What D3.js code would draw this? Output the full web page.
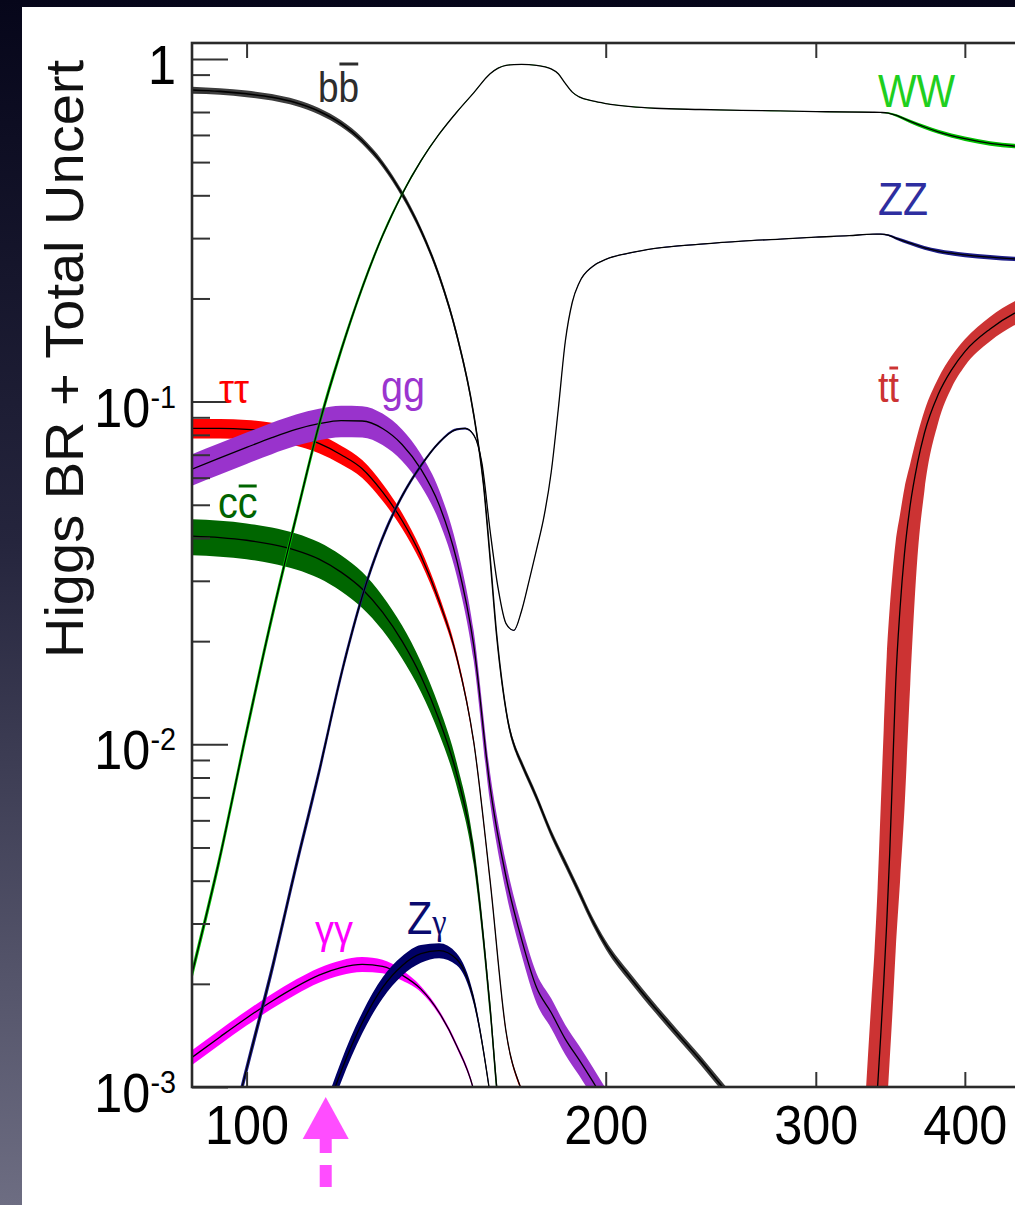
<!DOCTYPE html>
<html>
<head>
<meta charset="utf-8">
<script src="https://cdn.jsdelivr.net/npm/d3@7"></script>
<style>
  html, body { margin: 0; padding: 0; background: #000; overflow: hidden; }
  svg { display: block; }
  text { font-family: "Liberation Sans", Arial, Helvetica, sans-serif; }
</style>
</head>
<body>
<script>
// SM Higgs boson branching ratios versus Higgs mass (GeV),
// central value plus relative total uncertainty for each decay mode.

// H -> b bbar
const bbMass = [90,95,100,105,110,115,120,125,130,135,140,145,150,155,158,160,162,164,166,168,170,175,180,185,190,195,200,210,220,230,240,250,260,270];
const bbBR   = [0.812,0.804,0.791,0.773,0.745,0.704,0.648,0.577,0.494,0.404,0.316,0.233,0.157,0.092,0.057,0.035,0.021,0.0145,0.0112,0.0097,0.0088,0.0070,0.0055,0.0045,0.0037,0.00305,0.0026,0.00207,0.00170,0.00142,0.00120,0.00101,0.00086,0.00073];
const bbUnc  = [0.022,0.022,0.022,0.022,0.022,0.022,0.022,0.022,0.022,0.022,0.022,0.022,0.022,0.023,0.023,0.023,0.023,0.023,0.023,0.023,0.024,0.025,0.026,0.027,0.028,0.028,0.029,0.030,0.030,0.030,0.030,0.030,0.030,0.030];

// H -> tau tau
const tauMass = [90,95,100,105,110,115,120,125,130,135,140,145,150,155,160,165,170,175];
const tauBR   = [0.0835,0.0835,0.0830,0.0815,0.0795,0.0755,0.0700,0.0637,0.0545,0.0450,0.0355,0.0262,0.0180,0.0102,0.0040,0.00145,0.00098,0.0008];
const tauUnc  = [0.065,0.065,0.065,0.065,0.065,0.064,0.062,0.060,0.057,0.052,0.045,0.037,0.028,0.020,0.016,0.015,0.015,0.015];

// H -> c cbar
const ccMass = [90,95,100,105,110,115,120,125,130,135,140,145,150,155,160,162.5,165];
const ccBR   = [0.0405,0.0401,0.0394,0.0383,0.0368,0.0347,0.0318,0.0284,0.0243,0.0200,0.0158,0.0118,0.0082,0.0048,0.0017,0.0009,0.0006];
const ccUnc  = [0.12,0.12,0.12,0.12,0.12,0.12,0.12,0.12,0.115,0.11,0.10,0.09,0.08,0.07,0.06,0.06,0.06];

// H -> g g
const ggMass = [90,95,100,105,110,115,120,125,130,135,140,145,150,155,160,165,170,175,180,185,190,195,200,205];
const ggBR   = [0.0635,0.0685,0.0735,0.0785,0.0830,0.0862,0.0880,0.0878,0.0835,0.0750,0.0635,0.0500,0.0345,0.0195,0.0075,0.0041,0.0027,0.00195,0.00165,0.00138,0.00120,0.00104,0.00090,0.00078];
const ggUnc  = [0.105,0.105,0.105,0.105,0.105,0.105,0.105,0.105,0.105,0.105,0.105,0.105,0.10,0.10,0.10,0.10,0.10,0.10,0.10,0.10,0.10,0.10,0.10,0.10];

// H -> gamma gamma
const aaMass = [90,95,100,105,110,115,120,125,130,135,140,145,150,155,160,165];
const aaBR   = [0.00122,0.00140,0.00159,0.00178,0.00196,0.00212,0.00223,0.00228,0.00225,0.00212,0.00193,0.00165,0.00132,0.00098,0.00055,0.0003];
const aaUnc  = [0.05,0.05,0.05,0.05,0.05,0.05,0.05,0.05,0.045,0.035,0.02,0.015,0.015,0.015,0.015,0.015];

// H -> Z gamma
const zaMass = [110,115,120,125,130,135,140,145,150,155,160,165];
const zaBR   = [0.00040,0.00072,0.00111,0.00154,0.00195,0.00226,0.00245,0.00250,0.00236,0.00180,0.00095,0.0004];
const zaUnc  = [0.07,0.07,0.07,0.07,0.07,0.065,0.06,0.05,0.04,0.03,0.02,0.02];

// H -> W W
const wwMass = [90,95,100,105,110,115,120,125,130,135,140,145,150,155,160,162.5,165,167.5,170,175,180,182.5,185,187.5,190,195,200,210,220,240,260,280,300,320,335,340,345,350,360,370,380,400,420,440,460,480,500];
const wwBR   = [0.00214,0.0047,0.0109,0.0235,0.0459,0.0855,0.141,0.215,0.305,0.403,0.504,0.603,0.699,0.796,0.905,0.940,0.958,0.963,0.964,0.958,0.935,0.905,0.848,0.800,0.775,0.754,0.741,0.726,0.718,0.712,0.708,0.705,0.702,0.700,0.699,0.698,0.695,0.685,0.657,0.633,0.613,0.585,0.567,0.557,0.550,0.546,0.544];
const wwUnc  = [0.045,0.045,0.045,0.043,0.040,0.036,0.030,0.024,0.018,0.013,0.009,0.006,0.004,0.003,0.002,0.002,0.002,0.002,0.002,0.002,0.002,0.002,0.002,0.002,0.002,0.002,0.002,0.002,0.002,0.002,0.002,0.002,0.002,0.002,0.002,0.003,0.005,0.008,0.012,0.013,0.014,0.015,0.015,0.015,0.015,0.015,0.015];

// H -> Z Z
const zzMass = [95,100,105,110,115,120,125,130,135,140,145,150,152.5,155,157.5,160,162.5,165,167.5,170,172.5,175,177.5,180,182.5,185,187.5,190,195,200,210,220,240,260,280,300,320,335,340,345,350,360,370,380,400,420,440,460,480,500];
const zzBR   = [0.00055,0.00113,0.0022,0.0044,0.0083,0.0159,0.0270,0.0400,0.0530,0.0650,0.0760,0.0830,0.0835,0.0800,0.0660,0.0420,0.0285,0.0225,0.0215,0.0245,0.0300,0.0370,0.0460,0.0620,0.0950,0.150,0.195,0.222,0.248,0.260,0.272,0.280,0.288,0.294,0.298,0.302,0.305,0.308,0.308,0.306,0.300,0.290,0.281,0.275,0.268,0.264,0.261,0.259,0.258,0.258];
const zzUnc  = [0.045,0.045,0.045,0.043,0.040,0.036,0.030,0.024,0.018,0.013,0.010,0.008,0.007,0.006,0.005,0.004,0.003,0.003,0.003,0.003,0.003,0.003,0.003,0.003,0.003,0.003,0.003,0.003,0.003,0.003,0.003,0.003,0.003,0.003,0.003,0.003,0.003,0.003,0.004,0.006,0.009,0.012,0.013,0.014,0.015,0.015,0.015,0.015,0.015,0.015];

// H -> t tbar (band edges given directly: the threshold region is dominated by the top-mass uncertainty)
const ttMass = [330,334,336,338,340,342,344,346,348,350,353,356,360,365,370,380,390,400,420,440,460,480,500];
const ttBR   = [0.0003,0.0005,0.0007,0.0010,0.0014,0.0020,0.0030,0.0048,0.0085,0.0150,0.0250,0.0360,0.0500,0.0660,0.0810,0.105,0.124,0.140,0.163,0.181,0.193,0.201,0.207];
const ttHi   = [0.0009,0.0018,0.0025,0.0038,0.0065,0.0110,0.0180,0.0250,0.0320,0.0390,0.0470,0.0560,0.0660,0.0800,0.0940,0.117,0.136,0.152,0.177,0.196,0.209,0.217,0.223];
const ttLo   = [0.0001,0.0002,0.0003,0.00035,0.00045,0.0006,0.00085,0.0012,0.0017,0.0025,0.0040,0.0065,0.0150,0.0350,0.0550,0.087,0.110,0.127,0.150,0.167,0.178,0.186,0.192];

// Axis ticks
const xTickValues = [100,200,300,400,500,600,700,800,900,1000];
const xTickLabels = [100,200,300,400];
const yDecades = [1e-3,1e-2,1e-1,1];

// Marker under the axis (dashed arrow)
const markerMass = 116.5;

const W = 1015, H = 1205;
const plotTop = 43, plotBottom = 1087, plotLeft = 192;
const decadeX = 1193;
const plotRight = plotLeft + decadeX * Math.log10(1000 / 90);

const x = d3.scaleLog().domain([90, 1000]).range([plotLeft, plotRight]);
const y = d3.scaleLog().domain([1e-3, 1.113]).range([plotBottom, plotTop]);

const svg = d3.select("body").append("svg")
  .attr("width", W).attr("height", H)
  .attr("viewBox", `0 0 ${W} ${H}`);

const defs = svg.append("defs");
const bg = defs.append("linearGradient").attr("id", "bg")
  .attr("x1", 0).attr("y1", 0).attr("x2", 0).attr("y2", 1);
bg.append("stop").attr("offset", "0%").attr("stop-color", "#06061a");
bg.append("stop").attr("offset", "45%").attr("stop-color", "#25253d");
bg.append("stop").attr("offset", "100%").attr("stop-color", "#6d6d82");
defs.append("clipPath").attr("id", "plotClip")
  .append("rect")
  .attr("x", plotLeft).attr("y", plotTop)
  .attr("width", plotRight - plotLeft).attr("height", plotBottom - plotTop);

svg.append("rect").attr("width", W).attr("height", H).attr("fill", "url(#bg)");
svg.append("rect").attr("x", 22).attr("y", 7).attr("width", W - 22).attr("height", H - 7).attr("fill", "#fff");

// Build band records
function bandFromUnc(mass, br, unc) {
  return mass.map((m, i) => ({ m, v: br[i], hi: br[i] * (1 + unc[i]), lo: br[i] * (1 - unc[i]) }));
}
function bandFromEdges(mass, br, hi, lo) {
  return mass.map((m, i) => ({ m, v: br[i], hi: hi[i], lo: lo[i] }));
}

const series = [
  { key: "bb",  data: bandFromUnc(bbMass, bbBR, bbUnc),   fill: "#3d3d3d", lw: 1.6 },
  { key: "tau", data: bandFromUnc(tauMass, tauBR, tauUnc), fill: "#ff0000", lw: 1.3 },
  { key: "cc",  data: bandFromUnc(ccMass, ccBR, ccUnc),   fill: "#006600", lw: 1.3 },
  { key: "gg",  data: bandFromUnc(ggMass, ggBR, ggUnc),   fill: "#9933cc", lw: 1.3 },
  { key: "aa",  data: bandFromUnc(aaMass, aaBR, aaUnc),   fill: "#ff00ff", lw: 1.3 },
  { key: "za",  data: bandFromUnc(zaMass, zaBR, zaUnc),   fill: "#000066", lw: 1.3 },
  { key: "ww",  data: bandFromUnc(wwMass, wwBR, wwUnc),   fill: "#00c000", lw: 1.3 },
  { key: "zz",  data: bandFromUnc(zzMass, zzBR, zzUnc),   fill: "#1c1c88", lw: 1.3 },
  { key: "tt",  data: bandFromEdges(ttMass, ttBR, ttHi, ttLo), fill: "#cc3333", lw: 1.3 }
];

const area = d3.area()
  .x(d => x(d.m)).y0(d => y(d.lo)).y1(d => y(d.hi))
  .curve(d3.curveMonotoneX);
const line = d3.line()
  .x(d => x(d.m)).y(d => y(d.v))
  .curve(d3.curveMonotoneX);

const plot = svg.append("g").attr("clip-path", "url(#plotClip)");
series.forEach(s => {
  plot.append("path").attr("class", "band " + s.key)
    .attr("d", area(s.data)).attr("fill", s.fill).attr("stroke", "none");
  plot.append("path").attr("class", "central " + s.key)
    .attr("d", line(s.data)).attr("fill", "none")
    .attr("stroke", "#000").attr("stroke-width", s.lw);
});

// Axes (ticks inside the frame)
const tickColor = "#333";
function styleAxis(g) {
  g.select(".domain").remove();
  g.selectAll(".tick line").attr("stroke", tickColor).attr("stroke-width", 2);
}

const xBottom = d3.axisBottom(x).tickValues(xTickValues).tickSize(-15).tickSizeOuter(0)
  .tickPadding(17)
  .tickFormat(d => xTickLabels.includes(d) ? String(d) : "");
svg.append("g").attr("transform", `translate(0,${plotBottom})`).call(xBottom).call(styleAxis)
  .call(g => {
    g.selectAll(".tick text").filter(d => !xTickLabels.includes(d)).remove();
    g.selectAll(".tick text")
      .attr("font-size", 56).attr("fill", "#000")
      .attr("font-family", "Liberation Sans, Arial, sans-serif")
      .attr("transform", "scale(0.9,1)");
  });

const xTop = d3.axisTop(x).tickValues(xTickValues).tickSize(-15).tickSizeOuter(0).tickFormat(() => "");
svg.append("g").attr("transform", `translate(0,${plotTop})`).call(xTop).call(styleAxis)
  .call(g => g.selectAll(".tick text").remove());

const yMinor = [];
yDecades.forEach(d => { for (let j = 2; j <= 9; j++) { const v = d * j; if (v <= 1.113) yMinor.push(v); } });

const yMajorAxis = d3.axisLeft(y).tickValues(yDecades).tickSize(-36).tickSizeOuter(0).tickFormat(() => "");
svg.append("g").attr("transform", `translate(${plotLeft},0)`).call(yMajorAxis).call(styleAxis)
  .call(g => g.selectAll(".tick text").remove());
const yMinorAxis = d3.axisLeft(y).tickValues(yMinor).tickSize(-18).tickSizeOuter(0).tickFormat(() => "");
svg.append("g").attr("transform", `translate(${plotLeft},0)`).call(yMinorAxis).call(styleAxis)
  .call(g => g.selectAll(".tick text").remove());

// y labels: 1, 10^-1, 10^-2, 10^-3
const yLab = svg.append("g");
yDecades.forEach(d => {
  const exp = Math.round(Math.log10(d));
  const t = yLab.append("text")
    .attr("transform", `translate(176,${y(d) + 25}) scale(0.9,1)`)
    .attr("text-anchor", "end").attr("font-size", 56).attr("fill", "#000");
  if (exp === 0) {
    t.text("1");
  } else {
    t.append("tspan").text("10");
    t.append("tspan").attr("font-size", 32).attr("dy", -19).text(String(exp));
  }
});

// Frame
svg.append("rect")
  .attr("x", plotLeft).attr("y", plotTop)
  .attr("width", plotRight - plotLeft).attr("height", plotBottom - plotTop)
  .attr("fill", "none").attr("stroke", "#2a2a2a").attr("stroke-width", 2.6);

// Axis title
svg.append("text")
  .attr("transform", "translate(83,359) scale(0.95,1) rotate(-90)")
  .attr("text-anchor", "middle").attr("font-size", 56).attr("fill", "#111")
  .text("Higgs BR + Total Uncert");

// Decay-mode labels; an optional bar is drawn over the second glyph (antiparticle)
const serif = "Liberation Serif, Times New Roman, serif";
function modeLabel(tx, ty, sx, size, color, parts, opts) {
  opts = opts || {};
  const g = svg.append("g").attr("transform", `translate(${tx},${ty}) scale(${sx},1)`);
  const t = g.append("text").attr("font-size", size).attr("fill", color);
  if (opts.family) t.attr("font-family", opts.family);
  parts.forEach(p => {
    const s = t.append("tspan").text(p.t);
    if (p.family) s.attr("font-family", p.family);
    if (p.size) s.attr("font-size", p.size);
  });
  if (opts.barAbove) {
    const ext = t.node().getExtentOfChar(1);
    g.append("line")
      .attr("x1", ext.x + 1).attr("x2", ext.x + ext.width - 1)
      .attr("y1", -opts.barAbove).attr("y2", -opts.barAbove)
      .attr("stroke", color).attr("stroke-width", 3);
  }
  return g;
}
modeLabel(318, 102, 0.88, 42, "#2d2d2d", [{ t: "bb" }], { barAbove: 38 });
modeLabel(219, 403, 0.95, 40, "#ff0000", [{ t: "ττ" }], { family: serif });
modeLabel(381, 402, 0.9, 44, "#9b35cf", [{ t: "gg" }]);
modeLabel(218, 518, 0.9, 44, "#006400", [{ t: "cc" }], { barAbove: 32 });
modeLabel(315, 944, 0.95, 40, "#ff00ff", [{ t: "γγ" }], { family: serif });
modeLabel(407, 934, 0.9, 46, "#0a0a6e", [{ t: "Z" }, { t: "γ", family: serif, size: 36 }]);
modeLabel(878, 107, 0.87, 47, "#1fcf1f", [{ t: "WW" }]);
modeLabel(878, 215, 0.89, 46, "#2e2ea0", [{ t: "ZZ" }]);
modeLabel(878, 402, 0.9, 42, "#cc3333", [{ t: "tt" }], { barAbove: 34 });

// Dashed arrow marking a mass point below the axis
const ax = x(markerMass);
const arrow = svg.append("g").attr("fill", "#ff4dff");
arrow.append("path").attr("d", `M${ax},1097 L${ax - 23},1139 L${ax + 23},1139 Z`);
arrow.append("rect").attr("x", ax - 6).attr("y", 1138).attr("width", 12).attr("height", 15);
arrow.append("rect").attr("x", ax - 6).attr("y", 1165).attr("width", 12).attr("height", 22);
</script>
</body>
</html>
